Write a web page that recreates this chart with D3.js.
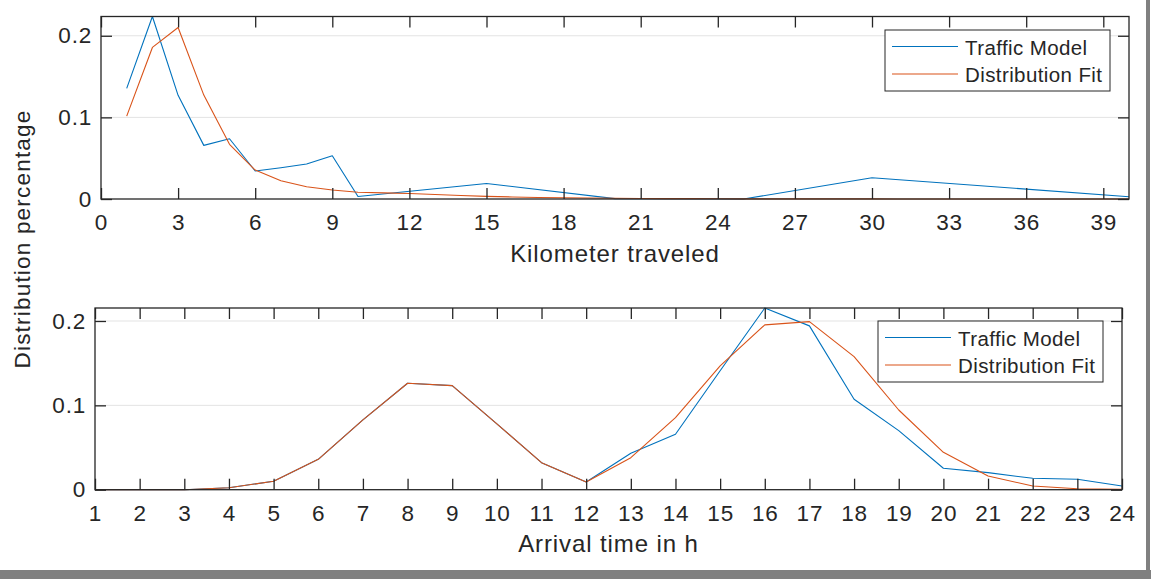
<!DOCTYPE html>
<html>
<head>
<meta charset="utf-8">
<script src="https://cdn.jsdelivr.net/npm/d3@7"></script>
<style>
  html, body { margin: 0; padding: 0; background: #fff; }
  svg { display: block; }
  text { font-family: "Liberation Sans", Arial, Helvetica, sans-serif; fill: #262626; }
</style>
</head>
<body>
<svg id="chart" width="1151" height="579"></svg>
<script>
// ---------- data ----------
const seriesNames = ["Traffic Model", "Distribution Fit"];

// Top panel: kilometers traveled
const kmTrafficX = [1, 2, 3, 4, 5, 6, 7, 8, 9, 10, 15, 20, 25, 30, 40];
const kmTraffic  = [0.1355, 0.2236, 0.127, 0.0657, 0.0738, 0.0343, 0.0383, 0.0428, 0.053, 0.003, 0.019, 0.0005, 0.0, 0.026, 0.0028];
const kmFitX = [1,2,3,4,5,6,7,8,9,10,11,12,13,14,15,16,17,18,19,20,21,22,23,24,25,26,27,28,29,30,31,32,33,34,35,36,37,38,39,40];
const kmFit  = [0.1016, 0.1857, 0.2101, 0.1273, 0.067, 0.0355, 0.0224, 0.015, 0.011, 0.0082,
                0.0075, 0.0068, 0.0055, 0.0042, 0.0032, 0.0025, 0.0019, 0.0015, 0.0012, 0.0009,
                0.0007, 0.0005, 0.0004, 0.0003, 0.0002, 0.0002, 0.0001, 0.0001, 0.0001, 0.0001,
                0, 0, 0, 0, 0, 0, 0, 0, 0, 0];
const kmTicks = [0, 3, 6, 9, 12, 15, 18, 21, 24, 27, 30, 33, 36, 39];

// Bottom panel: arrival time
const hourX = [1,2,3,4,5,6,7,8,9,10,11,12,13,14,15,16,17,18,19,20,21,22,23,24];
const hourTraffic = [0, 0, 0, 0.0024, 0.010, 0.036, 0.0827, 0.1262, 0.1234, 0.078, 0.032, 0.0091,
                     0.0432, 0.0657, 0.141, 0.2154, 0.1942, 0.1072, 0.070, 0.0254, 0.0202, 0.0135, 0.0123, 0.0044];
const hourFit     = [0, 0, 0, 0.0024, 0.010, 0.036, 0.0827, 0.1262, 0.1234, 0.078, 0.032, 0.0091,
                     0.038, 0.0854, 0.1467, 0.1954, 0.1993, 0.1578, 0.0945, 0.0443, 0.0162, 0.0044, 0.0012, 0.0005];
const hourTicks = hourX;

const yTicks = [0, 0.1, 0.2];
const yTickLabels = ["0", "0.1", "0.2"];

const xLabels = ["Kilometer traveled", "Arrival time in h"];
const yLabel = "Distribution percentage";

// ---------- styling ----------
const colors = ["#0072BD", "#D95319"];
const axisColor = "#262626";
const gridColor = "#e3e3e3";

const svg = d3.select("#chart");
svg.append("rect").attr("width", 1151).attr("height", 579).attr("fill", "#fff");

function panel(cfg) {
  const g = svg.append("g");
  const x = d3.scaleLinear().domain(cfg.xDomain).range([cfg.left, cfg.right]);
  const y = d3.scaleLinear().domain(cfg.yDomain).range([cfg.bottom, cfg.top]);

  // grid
  g.append("g").selectAll("line").data(yTicks.filter(d => d > 0)).join("line")
    .attr("x1", cfg.left).attr("x2", cfg.right)
    .attr("y1", d => y(d)).attr("y2", d => y(d))
    .attr("stroke", gridColor).attr("stroke-width", 1);

  // lines
  const line = d3.line().x(d => x(d[0])).y(d => y(d[1]));
  cfg.series.forEach((s, i) => {
    g.append("path")
      .datum(s.x.map((v, j) => [v, s.y[j]]))
      .attr("d", line)
      .attr("fill", "none")
      .attr("stroke", colors[i])
      .attr("stroke-width", 1.1)
      .attr("stroke-linejoin", "round");
  });

  const tickLen = 11;
  const ax = g.append("g").attr("transform", `translate(0,${cfg.bottom})`)
    .call(d3.axisBottom(x).tickValues(cfg.xTicks).tickSize(-tickLen).tickPadding(15.5).tickFormat(d3.format("d")));
  const ay = g.append("g").attr("transform", `translate(${cfg.left},0)`)
    .call(d3.axisLeft(y).tickValues(yTicks).tickSize(-tickLen).tickPadding(9)
      .tickFormat((d, i) => yTickLabels[i]));
  const at = g.append("g").attr("transform", `translate(0,${cfg.top})`)
    .call(d3.axisTop(x).tickValues(cfg.xTicks).tickSize(-tickLen).tickFormat(""));
  const ar = g.append("g").attr("transform", `translate(${cfg.right},0)`)
    .call(d3.axisRight(y).tickValues(yTicks).tickSize(-tickLen).tickFormat(""));

  [ax, ay, at, ar].forEach(a => {
    a.select(".domain").remove();
    a.selectAll(".tick line").attr("stroke", axisColor).attr("stroke-width", 1.3);
    a.selectAll(".tick text")
      .attr("font-family", '"Liberation Sans", Arial, sans-serif')
      .attr("font-size", 22.5).attr("letter-spacing", "0.8px").attr("fill", axisColor);
  });

  // box
  g.append("rect")
    .attr("x", cfg.left).attr("y", cfg.top)
    .attr("width", cfg.right - cfg.left).attr("height", cfg.bottom - cfg.top)
    .attr("fill", "none").attr("stroke", axisColor).attr("stroke-width", 1.3);

  // x label
  g.append("text")
    .attr("x", (cfg.left + cfg.right) / 2).attr("y", cfg.xLabelY)
    .attr("text-anchor", "middle")
    .attr("font-size", 24).attr("letter-spacing", "0.9px")
    .text(cfg.xLabel);

  // legend
  const L = cfg.legend;
  const lg = g.append("g").attr("transform", `translate(${L.x},${L.y})`);
  lg.append("rect").attr("width", L.w).attr("height", L.h)
    .attr("fill", "#fff").attr("stroke", axisColor).attr("stroke-width", 1);
  seriesNames.forEach((name, i) => {
    lg.append("line")
      .attr("x1", 7).attr("x2", 73)
      .attr("y1", 16.5 + i * 27.5).attr("y2", 16.5 + i * 27.5)
      .attr("stroke", colors[i]).attr("stroke-width", 1.1);
    lg.append("text")
      .attr("x", 80).attr("y", 24.5 + i * 27.8)
      .attr("font-size", 20.5).attr("letter-spacing", "0.4px").attr("fill", "#000")
      .text(name);
  });
}

panel({
  left: 101, right: 1129, top: 16.5, bottom: 199,
  xDomain: [0, 40], yDomain: [0, d3.max(kmTraffic)],
  xTicks: kmTicks,
  series: [{ x: kmTrafficX, y: kmTraffic }, { x: kmFitX, y: kmFit }],
  xLabel: xLabels[0], xLabelY: 261.5,
  legend: { x: 885, y: 30, w: 225, h: 61 }
});

panel({
  left: 95, right: 1122, top: 308, bottom: 489.7,
  xDomain: [1, 24], yDomain: [0, d3.max(hourTraffic)],
  xTicks: hourTicks,
  series: [{ x: hourX, y: hourTraffic }, { x: hourX, y: hourFit }],
  xLabel: xLabels[1], xLabelY: 551.5,
  legend: { x: 878, y: 321, w: 225, h: 61 }
});

// shared y label
svg.append("text")
  .attr("transform", "translate(29.5,239) rotate(-90)")
  .attr("text-anchor", "middle")
  .attr("font-size", 22.5).attr("letter-spacing", "1.2px")
  .text(yLabel);

// gray frame edges
svg.append("rect").attr("x", 1146).attr("y", 0).attr("width", 4).attr("height", 579).attr("fill", "#808080");
svg.append("rect").attr("x", 0).attr("y", 570).attr("width", 1151).attr("height", 9).attr("fill", "#808080");
</script>
</body>
</html>
